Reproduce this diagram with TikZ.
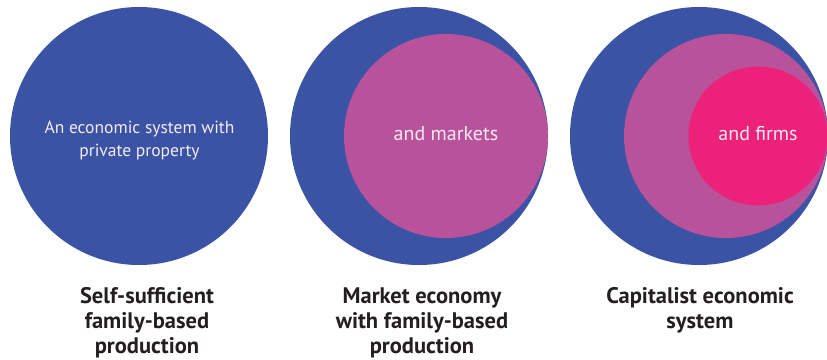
\documentclass[tikz,border=0pt]{standalone}
\usepackage{fontspec}
\setmainfont{PT Sans}
\definecolor{cblue}{HTML}{3A53A4}
\definecolor{cpink}{HTML}{B8529A}
\definecolor{cmag}{HTML}{EC217A}
\definecolor{ctext}{HTML}{231F20}
\definecolor{cwhite}{HTML}{F6EAF2}
\begin{document}
\begin{tikzpicture}[x=1pt,y=-1pt,
  intext/.style={text=cwhite,font=\fontsize{20}{23}\selectfont,inner sep=0pt,anchor=base},
  smalltext/.style={text=cwhite,font=\fontsize{17.5}{23}\selectfont,inner sep=0pt,anchor=base},
  caption/.style={text=ctext,font=\bfseries\fontsize{22.5}{25}\selectfont,align=center,inner sep=0pt,anchor=base}]
\useasboundingbox (0,0) rectangle (827,359);
% circle 1
\fill[cblue] (139,136) circle (129);
\node[smalltext] (t1a) at (139.5,133) {An economic system with};
\node[smalltext] (t1b) at (139.5,156) {private property};
% circle 2
\fill[cblue] (419,136) circle (129);
\fill[cpink] (446,136) circle (102);
\node[intext] (t2) at (446,140) {and markets};
% circle 3
\fill[cblue] (699,136) circle (129);
\fill[cpink] (726,136) circle (102);
\fill[cmag] (758,136) circle (69.5);
\node[intext] (t3) at (758,140) {and firms};
% captions (base = baseline of last line)
\node[caption] (l1) at (147,353) {Self-sufficient\\family-based\\production};
\node[caption] (l2) at (422,353) {Market economy\\with family-based\\production};
\node[caption] (l3) at (700,328) {Capitalist economic\\system};
\end{tikzpicture}
\end{document}
